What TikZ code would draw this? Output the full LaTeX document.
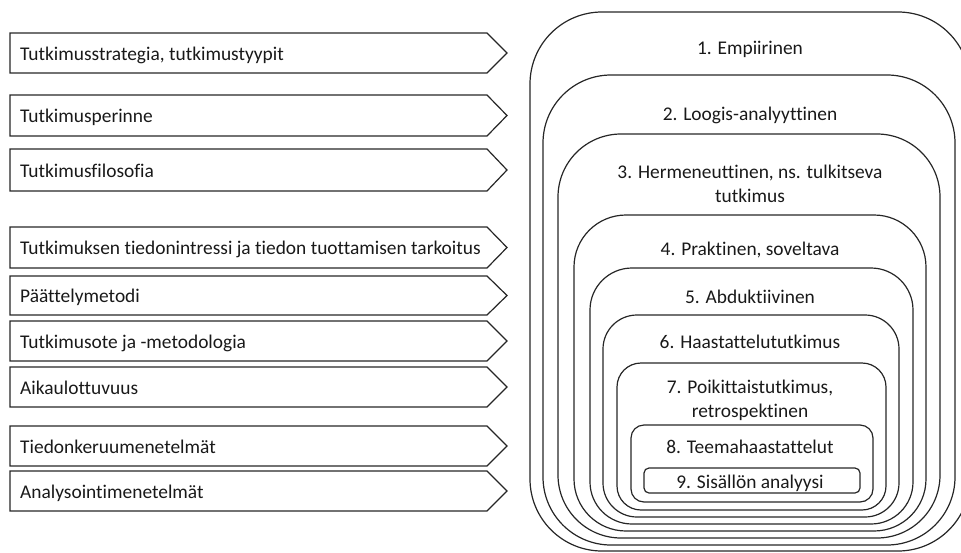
\documentclass[tikz,border=0pt]{standalone}
\usepackage{fontspec}
\setmainfont[Ligatures=NoCommon]{Carlito}
\begin{document}
\begin{tikzpicture}[x=1pt,y=-1pt,
  frame/.style={draw=black!85, line width=1.2pt},
  label/.style={font=\fontsize{19.4}{24}\selectfont, text=black!90, inner sep=0pt},
  levellabel/.style={label, align=center, anchor=base},
]
\useasboundingbox (0,0) rectangle (961,552);
\clip (0,0) rectangle (961,552);

% chevron with its label: #1 name, #2 top, #3 bottom, #4 text
\newcommand\chevronbox[4]{%
  \draw[frame] (10,#2) -- (487,#2) -- (507,{(#2+#3)/2}) -- (487,#3) -- (10,#3) -- cycle;
  \node[label, anchor=base west] (#1) at (20,{(#2+#3)/2+7}) {#4};
}

\chevronbox{c1}{33}{73}{Tutkimusstrategia, tutkimustyypit}
\chevronbox{c2}{95}{136}{Tutkimusperinne}
\chevronbox{c3}{149}{191}{Tutkimusfilosofia}
\chevronbox{c4}{227}{268}{Tutkimuksen tiedonintressi ja tiedon tuottamisen tarkoitus}
\chevronbox{c5}{276}{315}{Päättelymetodi}
\chevronbox{c6}{321}{361}{Tutkimusote ja -metodologia}
\chevronbox{c7}{367}{407}{Aikaulottuvuus}
\chevronbox{c8}{426}{466}{Tiedonkeruumenetelmät}
\chevronbox{c9}{471}{511}{Analysointimenetelmät}

% nested levels, outermost first
\draw[frame, rounded corners=72pt] (530,12)  rectangle (970,551);
\draw[frame, rounded corners=68pt] (543,75)  rectangle (955,545);
\draw[frame, rounded corners=63pt] (558,134) rectangle (940,538);
\draw[frame, rounded corners=52pt] (574,215) rectangle (926,531);
\draw[frame, rounded corners=42pt] (590,268) rectangle (913,524);
\draw[frame, rounded corners=34pt] (603,315) rectangle (899,517);
\draw[frame, rounded corners=24pt] (617,363) rectangle (886,510);
\draw[frame, rounded corners=13pt] (631,425) rectangle (873,502);
\draw[frame, rounded corners=5pt]  (644,468) rectangle (860,493);

% level labels (two-line labels are placed by their last baseline)
\node[levellabel] (l1) at (750,54)  {1. Empiirinen};
\node[levellabel] (l2) at (750,120) {2. Loogis-analyyttinen};
\node[levellabel] (l3) at (750,202) {3. Hermeneuttinen, ns. tulkitseva\\tutkimus};
\node[levellabel] (l4) at (750,255) {4. Praktinen, soveltava};
\node[levellabel] (l5) at (750,303) {5. Abduktiivinen};
\node[levellabel] (l6) at (750,348) {6. Haastattelututkimus};
\node[levellabel] (l7) at (750,417) {7. Poikittaistutkimus,\\retrospektinen};
\node[levellabel] (l8) at (750,453) {8. Teemahaastattelut};
\node[levellabel] (l9) at (750,488) {9. Sisällön analyysi};
\end{tikzpicture}
\end{document}
